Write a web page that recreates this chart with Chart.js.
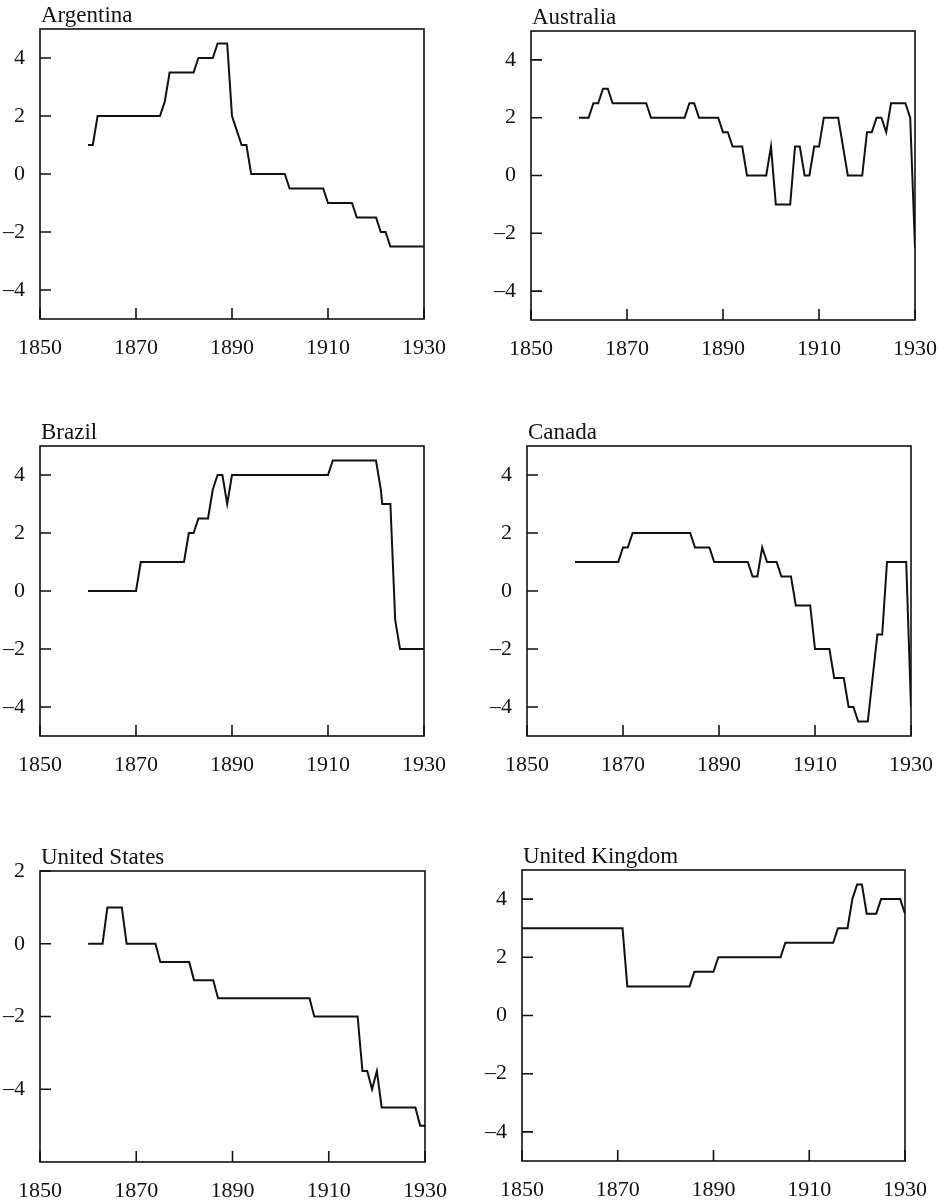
<!DOCTYPE html>
<html>
<head>
<meta charset="utf-8">
<title>Six country panels, 1850-1930</title>
<script src="https://cdn.jsdelivr.net/npm/chart.js@4.4.1/dist/chart.umd.min.js"></script>
<style>
  html, body { margin: 0; padding: 0; background: #fff; }
  body { width: 945px; height: 1203px; position: relative; overflow: hidden; }
  canvas { position: absolute; }
</style>
</head>
<body>
<canvas id="argentina"></canvas>
<canvas id="australia"></canvas>
<canvas id="brazil"></canvas>
<canvas id="canada"></canvas>
<canvas id="unitedStates"></canvas>
<canvas id="unitedKingdom"></canvas>
<script>
/* ================= DATA ================= */
const xTicks = [1850, 1870, 1890, 1910, 1930];
const yTicks = [-4, -2, 0, 2, 4];
const yTicksUS = [-4, -2, 0, 2];

const argentinaYears = [1860, 1861, 1862, 1875, 1876, 1877, 1882, 1883, 1886, 1887, 1889, 1890, 1892, 1893, 1894, 1901, 1902, 1909, 1910, 1915, 1916, 1920, 1921, 1922, 1923, 1930];
const argentinaValues = [1, 1, 2, 2, 2.5, 3.5, 3.5, 4, 4, 4.5, 4.5, 2, 1, 1, 0, 0, -0.5, -0.5, -1, -1, -1.5, -1.5, -2, -2, -2.5, -2.5];

const australiaYears = [1860, 1862, 1863, 1864, 1865, 1866, 1867, 1874, 1875, 1882, 1883, 1884, 1885, 1889, 1890, 1891, 1892, 1894, 1895, 1899, 1900, 1901, 1904, 1905, 1906, 1907, 1908, 1909, 1910, 1911, 1914, 1916, 1919, 1920, 1921, 1922, 1923, 1924, 1925, 1928, 1929, 1930];
const australiaValues = [2, 2, 2.5, 2.5, 3, 3, 2.5, 2.5, 2, 2, 2.5, 2.5, 2, 2, 1.5, 1.5, 1, 1, 0, 0, 1, -1, -1, 1, 1, 0, 0, 1, 1, 2, 2, 0, 0, 1.5, 1.5, 2, 2, 1.5, 2.5, 2.5, 2, -2.5];

const brazilYears = [1860, 1870, 1871, 1880, 1881, 1882, 1883, 1885, 1886, 1887, 1888, 1889, 1890, 1910, 1911, 1920, 1921, 1921.3, 1923, 1924, 1925, 1930];
const brazilValues = [0, 0, 1, 1, 2, 2, 2.5, 2.5, 3.5, 4, 4, 3, 4, 4, 4.5, 4.5, 3.5, 3, 3, -1, -2, -2];

const canadaYears = [1860, 1869, 1870, 1871, 1872, 1884, 1885, 1888, 1889, 1896, 1897, 1898, 1899, 1900, 1902, 1903, 1905, 1906, 1909, 1910, 1913, 1914, 1916, 1917, 1918, 1919, 1921, 1923, 1924, 1925, 1929, 1930];
const canadaValues = [1, 1, 1.5, 1.5, 2, 2, 1.5, 1.5, 1, 1, 0.5, 0.5, 1.5, 1, 1, 0.5, 0.5, -0.5, -0.5, -2, -2, -3, -3, -4, -4, -4.5, -4.5, -1.5, -1.5, 1, 1, -4];

const usYears = [1860, 1863, 1864, 1867, 1868, 1874, 1875, 1881, 1882, 1886, 1887, 1906, 1907, 1916, 1917, 1918, 1919, 1920, 1921, 1928, 1929, 1930];
const usValues = [0, 0, 1, 1, 0, 0, -0.5, -0.5, -1, -1, -1.5, -1.5, -2, -2, -3.5, -3.5, -4, -3.5, -4.5, -4.5, -5, -5];

const ukYears = [1850, 1871, 1872, 1885, 1886, 1890, 1891, 1904, 1905, 1915, 1916, 1918, 1919, 1920, 1921, 1922, 1924, 1925, 1929, 1930];
const ukValues = [3, 3, 1, 1, 1.5, 1.5, 2, 2, 2.5, 2.5, 3, 3, 4, 4.5, 4.5, 3.5, 3.5, 4, 4, 3.5];

/* ================= STYLE ================= */
const INK = "#111";
const FONT = "'Liberation Serif', 'DejaVu Serif', serif";
const PAD_TOP = 30, AXIS_W = 40, PAD_RIGHT = 30, AXIS_H = 50;

// plot box of each panel on the page
const panels = [
  { id: "argentina",     title: "Argentina",      years: argentinaYears, values: argentinaValues, x: 40,  y: 29,  w: 384, h: 290, min: -5, max: 5, ticks: yTicks },
  { id: "australia",     title: "Australia",      years: australiaYears, values: australiaValues, x: 531, y: 31,  w: 384, h: 289, min: -5, max: 5, ticks: yTicks },
  { id: "brazil",        title: "Brazil",         years: brazilYears,    values: brazilValues,    x: 40,  y: 446, w: 384, h: 290, min: -5, max: 5, ticks: yTicks },
  { id: "canada",        title: "Canada",         years: canadaYears,    values: canadaValues,    x: 527, y: 446, w: 384, h: 290, min: -5, max: 5, ticks: yTicks },
  { id: "unitedStates",  title: "United States",  years: usYears,        values: usValues,        x: 40,  y: 871, w: 385, h: 291, min: -6, max: 2, ticks: yTicksUS },
  { id: "unitedKingdom", title: "United Kingdom", years: ukYears,        values: ukValues,        x: 522, y: 870, w: 383, h: 291, min: -5, max: 5, ticks: yTicks }
];

/* ================= FRAME, INNER TICKS, TITLE ================= */
const framePlugin = {
  id: "frame",
  afterDraw(chart, args, opts) {
    const { ctx, chartArea: a } = chart;
    const x = chart.scales.x, y = chart.scales.y;
    ctx.save();
    ctx.strokeStyle = INK;
    ctx.lineWidth = 1.6;
    ctx.strokeRect(a.left, a.top, a.right - a.left, a.bottom - a.top);
    ctx.beginPath();
    x.ticks.forEach(t => {
      const px = x.getPixelForValue(t.value);
      ctx.moveTo(px, a.bottom);
      ctx.lineTo(px, a.bottom - 11);
    });
    y.ticks.forEach(t => {
      const py = y.getPixelForValue(t.value);
      ctx.moveTo(a.left, py);
      ctx.lineTo(a.left + 11, py);
    });
    ctx.stroke();
    ctx.fillStyle = INK;
    ctx.font = "23px " + FONT;
    ctx.textBaseline = "alphabetic";
    ctx.textAlign = "left";
    ctx.fillText(opts.text, a.left + 1, a.top - 7);
    ctx.restore();
  }
};

const minus = v => (v < 0 ? "\u2013" + Math.abs(v) : String(v));

/* ================= CHARTS ================= */
panels.forEach(p => {
  const canvas = document.getElementById(p.id);
  canvas.width = AXIS_W + p.w + PAD_RIGHT;
  canvas.height = PAD_TOP + p.h + AXIS_H;
  canvas.style.left = (p.x - AXIS_W) + "px";
  canvas.style.top = (p.y - PAD_TOP) + "px";

  new Chart(canvas, {
    type: "line",
    data: {
      datasets: [{
        data: p.years.map((yr, i) => ({ x: yr, y: p.values[i] })),
        borderColor: INK,
        borderWidth: 2,
        pointRadius: 0,
        tension: 0,
        fill: false
      }]
    },
    options: {
      responsive: false,
      animation: false,
      layout: { padding: { top: PAD_TOP, right: PAD_RIGHT, left: 0, bottom: 0 } },
      plugins: {
        legend: { display: false },
        tooltip: { enabled: false },
        frame: { text: p.title }
      },
      scales: {
        x: {
          type: "linear",
          min: 1850,
          max: 1930,
          grid: { display: false, drawTicks: false },
          border: { display: false },
          afterBuildTicks: s => { s.ticks = xTicks.map(v => ({ value: v })); },
          afterFit: s => { s.height = AXIS_H; s.paddingLeft = 0; s.paddingRight = 0; },
          ticks: {
            color: INK,
            font: { family: FONT, size: 22 },
            padding: 16,
            maxRotation: 0,
            autoSkip: false,
            callback: v => String(v)
          }
        },
        y: {
          min: p.min,
          max: p.max,
          grid: { display: false, drawTicks: false },
          border: { display: false },
          afterBuildTicks: s => { s.ticks = p.ticks.map(v => ({ value: v })); },
          afterFit: s => { s.width = AXIS_W; s.paddingTop = 0; s.paddingBottom = 0; },
          ticks: {
            color: INK,
            font: { family: FONT, size: 22 },
            padding: 15,
            autoSkip: false,
            callback: v => minus(v)
          }
        }
      }
    },
    plugins: [framePlugin]
  });
});
</script>
</body>
</html>
